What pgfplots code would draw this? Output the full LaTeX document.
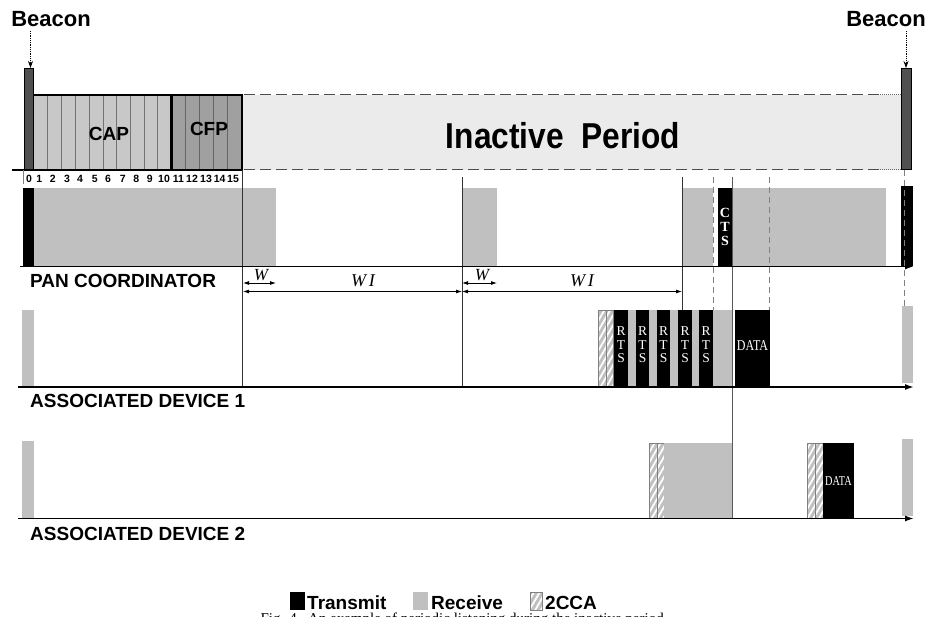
\documentclass[border=0pt]{standalone}
\usepackage{pgfplots}
\pgfplotsset{compat=1.18}
\usepackage{graphicx}
\usepackage{fontspec}
\setmainfont{Liberation Sans}
\newfontfamily\tms{Liberation Serif}
\usetikzlibrary{patterns.meta,arrows.meta}
\definecolor{rx}{HTML}{C0C0C0}
\definecolor{bcn}{HTML}{505050}
\definecolor{capc}{HTML}{C8C8C8}
\definecolor{cfpc}{HTML}{A0A0A0}
\definecolor{inact}{HTML}{EBEBEB}
\newcommand{\rect}[5][]{\addplot[#1] coordinates {(#2,#4) (#3,#4) (#3,#5) (#2,#5)} -- cycle;}
\newcommand{\cca}[4]{\rect[fill=rx,draw=none]{#1}{#2}{#3}{#4}\rect[pattern={Lines[angle=60,distance=5pt,line width=1.8pt]},pattern color=white,draw=gray,line width=0.6pt]{#1}{#2}{#3}{#4}}
\newcommand{\fs}[1]{\fontsize{#1}{#1}\selectfont}
\newcommand{\fsl}[2]{\fontsize{#1}{#2}\selectfont}
\begin{document}
\begin{tikzpicture}
\begin{axis}[scale only axis, width=928pt, height=617pt,
  xmin=0, xmax=928, ymin=0, ymax=617, y dir=reverse,
  hide axis, clip=false,
  arr/.style={<->, >={Latex[length=6pt,width=4pt]}, line width=0.8pt, black},
  tl/.style={-{Latex[length=9pt,width=6pt]}, line width=1.6pt, black},
  vl/.style={line width=0.8pt, black!80},
  dl/.style={line width=0.8pt, gray, dash pattern=on 6pt off 4pt}]
\coordinate (bl) at (axis cs:0,617);
\coordinate (tr) at (axis cs:928,0);
% ---------- superframe ----------
\rect[fill=inact,draw=none]{242}{901}{95}{170}
\addplot[line width=1pt, black!70, dash pattern=on 11pt off 5pt] coordinates {(244,95) (880,95)};
\addplot[line width=1pt, black!70, dash pattern=on 11pt off 5pt] coordinates {(244,170) (880,170)};
\addplot[line width=1pt, black!60, densely dotted] coordinates {(880,95) (901,95)};
\addplot[line width=1pt, black!60, densely dotted] coordinates {(880,170) (901,170)};
\rect[fill=capc,draw=none]{33}{171.5}{95}{170}
\rect[fill=cfpc,draw=none]{171.5}{242}{95}{170}
\pgfplotsinvokeforeach{47.7,61.7,75.3,89,103,116.7,130.3,144,157.7}{
  \addplot[line width=0.8pt, black!55] coordinates {(#1,95) (#1,170)};}
\pgfplotsinvokeforeach{185.7,199.3,213.3,227.3}{
  \addplot[line width=0.8pt, black!60] coordinates {(#1,95) (#1,170)};}
\addplot[line width=2.5pt, black] coordinates {(33,170) (33,95) (242,95) (242,170)};
\addplot[line width=2.5pt, black] coordinates {(171.5,95) (171.5,170)};
\addplot[line width=2pt, black] coordinates {(12,170) (242,170)};
\rect[fill=bcn,draw=black,line width=1pt]{24}{33}{69}{170}
\rect[fill=bcn,draw=black,line width=1pt]{901}{911}{69}{170}
\addplot[densely dotted, line width=0.8pt, -{Stealth[length=7pt,width=5pt]}] coordinates {(30.5,31) (30.5,68)};
\addplot[densely dotted, line width=0.8pt, -{Stealth[length=7pt,width=5pt]}] coordinates {(906,31) (906,68)};
\addplot[line width=0.8pt, gray] coordinates {(23.5,170) (23.5,184)};
% ---------- PAN coordinator ----------
\rect[fill=black,draw=none]{23}{34}{188}{266}
\rect[fill=rx,draw=none]{34}{276}{188}{266}
\rect[fill=rx,draw=none]{462}{497}{188}{266}
\rect[fill=rx,draw=none]{683}{712.5}{188}{266}
\rect[fill=rx,draw=none]{732}{885.5}{188}{266}
\rect[fill=black,draw=none]{718}{732}{188}{266}
\rect[fill=black,draw=none]{901}{912.5}{186}{266}
% ---------- Associated device 1 ----------
\rect[fill=rx,draw=none]{22}{34}{310}{387}
\rect[fill=rx,draw=none]{613}{733}{310}{387}
\cca{598.3}{606}{310}{387}
\cca{606}{613.3}{310}{387}
\rect[fill=black,draw=none]{614}{628}{310}{387}
\rect[fill=black,draw=none]{636}{649}{310}{387}
\rect[fill=black,draw=none]{657}{670}{310}{387}
\rect[fill=black,draw=none]{678}{692}{310}{387}
\rect[fill=black,draw=none]{699}{713}{310}{387}
\rect[fill=black,draw=none]{735}{769.5}{310}{387}
\rect[fill=rx,draw=none]{902}{913}{306}{383}
% ---------- Associated device 2 ----------
\rect[fill=rx,draw=none]{22}{34}{441}{518}
\cca{649}{657}{443}{518}
\cca{657}{664}{443}{518}
\rect[fill=rx,draw=none]{664}{732}{443}{518}
\cca{807.7}{815.7}{443}{518}
\cca{815.7}{823}{443}{518}
\rect[fill=black,draw=none]{823}{854}{443}{518}
\rect[fill=rx,draw=none]{902}{913}{439}{516}
% ---------- vertical guide lines ----------
\addplot[vl] coordinates {(242,170) (242,387)};
\addplot[vl] coordinates {(462,177) (462,387)};
\addplot[vl] coordinates {(682,177) (682,310)};
\addplot[vl, black!65] coordinates {(732,177) (732,518)};
\addplot[dl] coordinates {(713,177) (713,310)};
\addplot[dl] coordinates {(769,177) (769,310)};
\addplot[dl] coordinates {(904,170) (904,306)};
% ---------- time lines ----------
\addplot[tl] coordinates {(20,266.5) (914,266.5)};
\addplot[tl] coordinates {(18,387) (914,387)};
\addplot[tl] coordinates {(18,518.5) (914,518.5)};
% ---------- W / WI arrows ----------
\addplot[arr] coordinates {(243,283) (276,283)};
\addplot[arr] coordinates {(243,291.5) (462,291.5)};
\addplot[arr] coordinates {(462,283) (497,283)};
\addplot[arr] coordinates {(462,291.5) (682,291.5)};
\node[font=\tms\itshape\fs{17}] at (axis cs:261,275) {W};
\node[font=\tms\itshape\fs{17}] at (axis cs:482,275) {W};
\node[font=\tms\itshape\fs{18}] at (axis cs:363,281) {W\,I};
\node[font=\tms\itshape\fs{18}] at (axis cs:582,281) {W\,I};
% ---------- texts ----------
\node[font=\bfseries\fs{22}, anchor=base] at (axis cs:51,27) {Beacon};
\node[font=\bfseries\fs{22}, anchor=base] at (axis cs:886,27) {Beacon};
\node[font=\bfseries\fs{19}] at (axis cs:109,134) {CAP};
\node[font=\bfseries\fs{19}] at (axis cs:209,129) {CFP};
\node[font=\bfseries\fs{36}] at (axis cs:563,136) {\scalebox{0.88}[1]{Inactive\ \ Period}};
\node[font=\bfseries\fs{10.5}, anchor=base, inner sep=0pt] at (axis cs:29,183) {0};
\node[font=\bfseries\fs{10.5}, anchor=base, inner sep=0pt] at (axis cs:39.3,183) {1};
\node[font=\bfseries\fs{10.5}, anchor=base, inner sep=0pt] at (axis cs:52.7,183) {2};
\node[font=\bfseries\fs{10.5}, anchor=base, inner sep=0pt] at (axis cs:67,183) {3};
\node[font=\bfseries\fs{10.5}, anchor=base, inner sep=0pt] at (axis cs:80,183) {4};
\node[font=\bfseries\fs{10.5}, anchor=base, inner sep=0pt] at (axis cs:94.7,183) {5};
\node[font=\bfseries\fs{10.5}, anchor=base, inner sep=0pt] at (axis cs:108,183) {6};
\node[font=\bfseries\fs{10.5}, anchor=base, inner sep=0pt] at (axis cs:122.7,183) {7};
\node[font=\bfseries\fs{10.5}, anchor=base, inner sep=0pt] at (axis cs:136.3,183) {8};
\node[font=\bfseries\fs{10.5}, anchor=base, inner sep=0pt] at (axis cs:149.7,183) {9};
\node[font=\bfseries\fs{10.5}, anchor=base, inner sep=0pt] at (axis cs:164,183) {10};
\node[font=\bfseries\fs{10.5}, anchor=base, inner sep=0pt] at (axis cs:178.3,183) {11};
\node[font=\bfseries\fs{10.5}, anchor=base, inner sep=0pt] at (axis cs:192,183) {12};
\node[font=\bfseries\fs{10.5}, anchor=base, inner sep=0pt] at (axis cs:206,183) {13};
\node[font=\bfseries\fs{10.5}, anchor=base, inner sep=0pt] at (axis cs:219.7,183) {14};
\node[font=\bfseries\fs{10.5}, anchor=base, inner sep=0pt] at (axis cs:233,183) {15};
\node[font=\bfseries\fs{19}, anchor=base west, inner sep=0pt] at (axis cs:30,288) {PAN COORDINATOR};
\node[font=\bfseries\fs{19}, anchor=base west, inner sep=0pt] at (axis cs:30,407) {ASSOCIATED DEVICE 1};
\node[font=\bfseries\fs{19}, anchor=base west, inner sep=0pt] at (axis cs:30,540) {ASSOCIATED DEVICE 2};
\node[white, font=\tms\bfseries\fs{14}, align=center, inner sep=0pt] at (axis cs:725,227) {C\\T\\S};
\node[white, font=\tms\fs{13.5}, align=center, inner sep=0pt] at (axis cs:621,345) {R\\T\\S};
\node[white, font=\tms\fs{13.5}, align=center, inner sep=0pt] at (axis cs:642.5,345) {R\\T\\S};
\node[white, font=\tms\fs{13.5}, align=center, inner sep=0pt] at (axis cs:663.5,345) {R\\T\\S};
\node[white, font=\tms\fs{13.5}, align=center, inner sep=0pt] at (axis cs:685,345) {R\\T\\S};
\node[white, font=\tms\fs{13.5}, align=center, inner sep=0pt] at (axis cs:706,345) {R\\T\\S};
\node[white, font=\tms\fs{15}, inner sep=0pt] at (axis cs:752.5,346) {\scalebox{0.8}[1]{DATA}};
\node[white, font=\tms\fs{13.5}, inner sep=0pt] at (axis cs:838.5,481) {\scalebox{0.76}[1]{DATA}};
% ---------- legend ----------
\rect[fill=black,draw=none]{290}{305}{592}{610}
\rect[fill=rx,draw=none]{413}{428}{592}{610}
\cca{530}{542}{592}{610}
\node[font=\bfseries\fs{19}, anchor=base west, inner sep=0pt] at (axis cs:307,609) {Transmit};
\node[font=\bfseries\fs{19}, anchor=base west, inner sep=0pt] at (axis cs:431,609) {Receive};
\node[font=\bfseries\fs{19}, anchor=base west, inner sep=0pt] at (axis cs:545,609) {2CCA};
% ---------- caption (cut by the page edge, as in the reference) ----------
\node[font=\tms\fs{15}, anchor=north, inner sep=0pt] at (axis cs:464,612.5) {Fig. 4.\ \ An example of periodic listening during the inactive period.};
\end{axis}
\pgfresetboundingbox
\path[use as bounding box] (bl) rectangle (tr);
\end{tikzpicture}
\end{document}
